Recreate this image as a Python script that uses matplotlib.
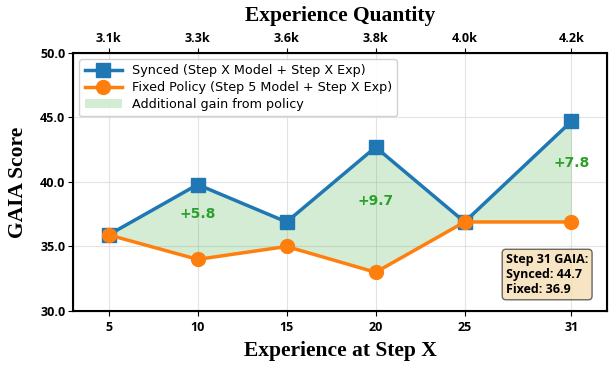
import matplotlib
matplotlib.use("Agg")
import matplotlib.pyplot as plt

steps = [5, 10, 15, 20, 25, 31]
synced = [35.9, 39.8, 36.9, 42.7, 36.9, 44.7]
fixed = [35.9, 34.0, 35.0, 33.0, 36.9, 36.9]
exp_labels = ["3.1k", "3.3k", "3.6k", "3.8k", "4.0k", "4.2k"]
gain_steps = [10, 20, 31]

blue = "#1f77b4"
orange = "#ff7f0e"
green = "#2ca02c"

tick_family = ["Open Sans", "DejaVu Sans"]
serif = ["Liberation Serif", "DejaVu Serif"]

fig = plt.figure(figsize=(6.1, 3.66), dpi=100)
ax = fig.add_axes([0.1197, 0.1503, 0.8754, 0.705])

ax.fill_between(steps, fixed, synced, color=green, alpha=0.2, linewidth=0,
                label="Additional gain from policy", zorder=1)
ax.plot(steps, synced, color=blue, marker="s", markersize=10, linewidth=2.5,
        label="Synced (Step X Model + Step X Exp)", zorder=3)
ax.plot(steps, fixed, color=orange, marker="o", markersize=10, linewidth=2.5,
        label="Fixed Policy (Step 5 Model + Step X Exp)", zorder=3)

for s in gain_steps:
    i = steps.index(s)
    mid = (synced[i] + fixed[i]) / 2
    ax.text(s, mid + 0.1, f"+{synced[i] - fixed[i]:.1f}", color=green,
            fontsize=10, fontweight="bold", ha="center", va="bottom", zorder=4)

ax.set_xlim(steps[0] - 2, steps[-1] + 2)
ax.set_ylim(30, 50)
ax.set_xticks(steps)
ax.set_yticks([30, 35, 40, 45, 50])
ax.set_yticklabels([f"{v:.1f}" for v in [30, 35, 40, 45, 50]])
ax.grid(True, color="#dddddd", linewidth=0.8, alpha=0.8, zorder=0)
ax.set_axisbelow(True)
ax.tick_params(axis="y", pad=2)

for lbl in ax.get_xticklabels() + ax.get_yticklabels():
    lbl.set_fontweight("bold")
    lbl.set_fontsize(9)
    lbl.set_family(tick_family)

ax.set_xlabel("Experience at Step X", fontsize=15.5, fontweight="bold",
              family=serif, labelpad=5)
ax.set_ylabel("GAIA Score", fontsize=15.5, fontweight="bold", family=serif,
              labelpad=9)

for sp in ax.spines.values():
    sp.set_linewidth(1.5)
    sp.set_color("black")

ax2 = ax.twiny()
ax2.set_xlim(ax.get_xlim())
ax2.set_xticks(steps)
ax2.set_xticklabels(exp_labels, fontsize=9, fontweight="bold",
                    family=tick_family)
ax2.tick_params(axis="x", pad=2)
ax2.set_xlabel("Experience Quantity", fontsize=15.5, fontweight="bold",
               family=serif, labelpad=8)

handles, labels = ax.get_legend_handles_labels()
order = [1, 2, 0]
ax.legend([handles[i] for i in order], [labels[i] for i in order],
          loc="upper left", fontsize=9.2, framealpha=0.9, edgecolor="#cccccc",
          borderpad=0.4, labelspacing=0.3, handlelength=2.9)

ax.text(0.965, 0.058,
        f"Step 31 GAIA:\nSynced: {synced[-1]:.1f}\nFixed: {fixed[-1]:.1f}",
        transform=ax.transAxes, ha="right", va="bottom", fontsize=9,
        fontweight="bold", family=tick_family, linespacing=1.2,
        multialignment="left",
        bbox=dict(boxstyle="round,pad=0.3", facecolor="wheat", alpha=0.8,
                  edgecolor="#444444"), zorder=5)

fig.savefig("out.png", dpi=100)
